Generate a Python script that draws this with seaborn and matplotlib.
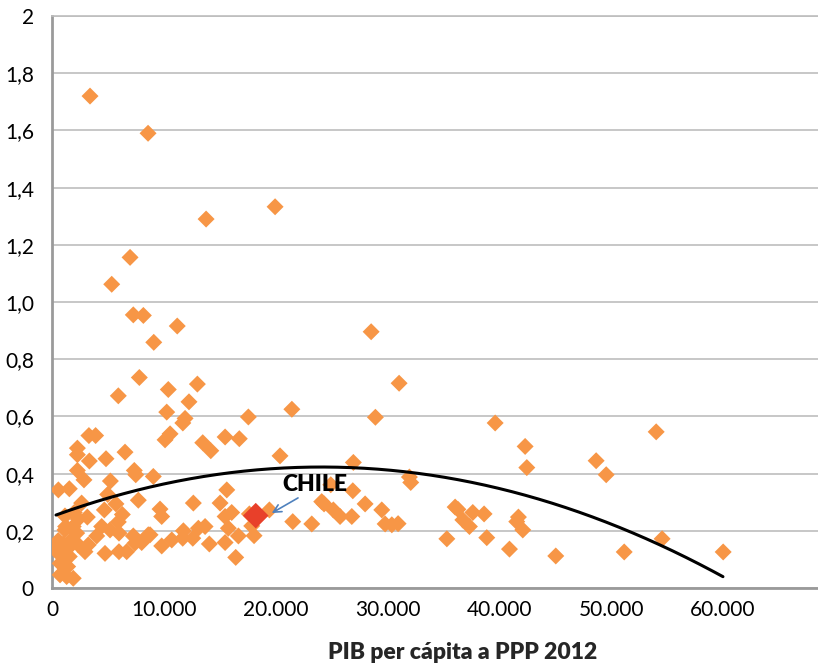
import numpy as np
import pandas as pd
import seaborn as sns
import matplotlib.pyplot as plt
from matplotlib.ticker import FuncFormatter

# PIB per cápita PPP 2012 (x) y valor del indicador (y)
pib = [3400, 8590, 5340, 6980, 7270, 8170, 9100, 7810, 5930, 3300, 3900, 2270, 2270,
       3340, 4830, 6530, 2270, 2860, 7360, 7490, 5220, 570, 1550, 4980, 7720, 2650,
       5720, 4680, 6290, 1990, 1160, 3160, 2350, 1220, 1900, 4440, 5190, 5930, 5990,
       4000, 7270, 8610, 560, 1010, 1700, 2350, 3250, 210, 1330, 2950, 7420, 8020,
       4740, 5990, 6680, 870, 1550, 720, 1400, 720, 1310, 1900, 1160, 2210, 1000, 9060,
       13780, 19950, 11200, 10400, 13000, 12250, 10260, 11900, 11700, 17560, 21450,
       10110, 10560, 13480, 14200, 15480, 16750, 20390, 15630, 12640, 15030, 16070,
       9660, 9810, 15480, 17650, 19440, 8770, 11750, 13090, 13690, 15770, 17860, 9810,
       10710, 11690, 12590, 14070, 15480, 16670, 18070, 16430,
       28540, 31040, 28920, 26950, 24930, 26900, 24120, 24330, 28000, 25160, 29490,
       25760, 26810, 21530, 23230, 29790, 30390, 30950, 39630, 42310, 42460, 31960,
       32080, 36050, 36300, 36740, 37630, 38640, 37330, 41710, 41560, 42100, 35310,
       38880, 40910, 45050, 48660, 49560, 54030, 51170, 54560, 60020]
valor = [1.72, 1.59, 1.062, 1.156, 0.955, 0.953, 0.859, 0.736, 0.672, 0.533, 0.533, 0.489, 0.466,
         0.444, 0.452, 0.475, 0.411, 0.378, 0.411, 0.396, 0.374, 0.343, 0.347, 0.327, 0.307, 0.297,
         0.294, 0.273, 0.257, 0.264, 0.252, 0.248, 0.241, 0.215, 0.215, 0.215, 0.203, 0.231, 0.192,
         0.182, 0.182, 0.186, 0.166, 0.154, 0.166, 0.151, 0.151, 0.136, 0.135, 0.127, 0.157, 0.159,
         0.121, 0.127, 0.127, 0.110, 0.110, 0.086, 0.075, 0.046, 0.040, 0.034, 0.203, 0.192, 0.12, 0.39,
         1.29, 1.333, 0.916, 0.694, 0.713, 0.651, 0.615, 0.593, 0.577, 0.598, 0.625,
         0.518, 0.539, 0.508, 0.48, 0.528, 0.522, 0.462, 0.343, 0.297, 0.297, 0.264,
         0.276, 0.25, 0.25, 0.259, 0.273, 0.186, 0.2, 0.209, 0.215, 0.209, 0.217, 0.147,
         0.168, 0.174, 0.174, 0.154, 0.159, 0.182, 0.183, 0.107,
         0.896, 0.716, 0.597, 0.439, 0.361, 0.34, 0.302, 0.294, 0.294, 0.273, 0.273,
         0.25, 0.25, 0.232, 0.224, 0.224, 0.221, 0.225, 0.577, 0.495, 0.421, 0.388,
         0.369, 0.283, 0.275, 0.238, 0.264, 0.259, 0.215, 0.248, 0.232, 0.203, 0.172,
         0.176, 0.136, 0.112, 0.445, 0.396, 0.546, 0.126, 0.172, 0.126]

chile_pib = [18220]
chile_valor = [0.253]

# tendencia polinómica de orden 2: c0 + c1*x + c2*x^2
trend_coef = [0.25, 1.435e-5, -2.976e-10]
trend_range = [360, 60000]

x_ticks = [0, 10000, 20000, 30000, 40000, 50000, 60000]
y_ticks = [0, 0.2, 0.4, 0.6, 0.8, 1.0, 1.2, 1.4, 1.6, 1.8, 2.0]

df = pd.DataFrame({'pib': pib, 'valor': valor})
xs = np.linspace(trend_range[0], trend_range[1], 200)
trend = pd.DataFrame({'pib': xs,
                      'valor': trend_coef[0] + trend_coef[1] * xs + trend_coef[2] * xs ** 2})

sns.set_style('white')
plt.rcParams['font.family'] = ['Lato', 'DejaVu Sans']

fig = plt.figure(figsize=(8.18, 6.63), dpi=100)
ax = fig.add_axes([52 / 818, 1 - 588 / 663, 1 - 52 / 818, (588 - 16) / 663])

sns.scatterplot(data=df, x='pib', y='valor', marker='D', s=75, color='#F79646',
                edgecolor='none', ax=ax, zorder=3)
sns.lineplot(data=trend, x='pib', y='valor', color='black', linewidth=2.2, ax=ax, zorder=4)
sns.scatterplot(x=chile_pib, y=chile_valor, marker='D', s=170, color='#E8402A',
                edgecolor='none', ax=ax, zorder=5)

# etiqueta y flecha de Chile
ax.text(23500, 0.362, 'CHILE', ha='center', va='center', fontsize=16.5,
        fontweight='heavy', color='black', zorder=6)
ax.annotate('', xy=(19650, 0.262), xytext=(22000, 0.315),
            arrowprops=dict(arrowstyle='->', color='#4F81BD', lw=1.2,
                            shrinkA=0, shrinkB=0, mutation_scale=14), zorder=6)

ax.set_xlim(0, 68500)
ax.set_ylim(0, 2)
ax.set_xticks(x_ticks)
ax.set_yticks(y_ticks)
ax.xaxis.set_major_formatter(FuncFormatter(lambda v, p: f'{int(v):,}'.replace(',', '.')))
ax.yaxis.set_major_formatter(FuncFormatter(
    lambda v, p: '0' if v == 0 else ('2' if v == 2 else f'{v:.1f}'.replace('.', ','))))
ax.tick_params(axis='both', length=0, labelsize=15, colors='black')
ax.tick_params(axis='x', pad=9)
ax.tick_params(axis='y', pad=13)

ax.grid(axis='y', color='#BEBEBE', linewidth=1.2)
ax.set_axisbelow(True)
for side in ['left', 'bottom']:
    ax.spines[side].set_color('#9A9A9A')
    ax.spines[side].set_linewidth(2)
ax.spines['top'].set_color('#BEBEBE')
ax.spines['top'].set_linewidth(1.2)
ax.spines['right'].set_visible(False)

ax.set_xlabel('PIB per cápita a PPP 2012', fontsize=16.5, fontweight='heavy')
ax.xaxis.set_label_coords((463 - 52) / 766, -0.095)
ax.set_ylabel('')

fig.savefig('out.png', dpi=100)
